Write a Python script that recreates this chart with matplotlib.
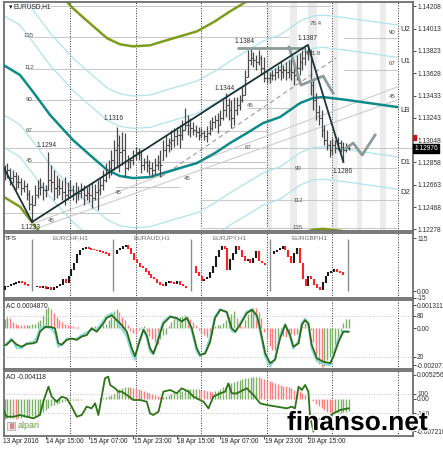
import numpy as np
import matplotlib
matplotlib.use("Agg")
import matplotlib.pyplot as plt
from matplotlib import patheffects
from matplotlib.patches import Rectangle
from matplotlib.transforms import blended_transform_factory

plt.rcParams['font.family'] = ['Liberation Sans', 'DejaVu Sans']

W, H = 443, 450

# EURUSD H1 bars, bar 0 = 13 Apr 2016 23:00 (bars start at index 1)
bar_high = [1.12832, 1.12849, 1.12806, 1.12789, 1.12771, 1.12745, 1.12719, 1.12702, 1.12676, 1.12616,
            1.12572, 1.12659, 1.12702, 1.12719, 1.12685, 1.12659, 1.12944, 1.12832, 1.12789, 1.12745,
            1.12719, 1.12702, 1.12728, 1.12685, 1.12702, 1.12659, 1.12685, 1.12650, 1.12676, 1.12659,
            1.12641, 1.12659, 1.12685, 1.12668, 1.12702, 1.12719, 1.12789, 1.12849, 1.12875, 1.12962,
            1.13048, 1.13161, 1.13092, 1.13118, 1.13109, 1.12918, 1.12892, 1.12962, 1.12988, 1.12979,
            1.12962, 1.12892, 1.12918, 1.12875, 1.12858, 1.12892, 1.12918, 1.12962, 1.13048, 1.13092,
            1.13066, 1.13135, 1.13152, 1.13161, 1.13178, 1.13221, 1.13325, 1.13265, 1.13239, 1.13204,
            1.13178, 1.13161, 1.13152, 1.13135, 1.13169, 1.13221, 1.13247, 1.13265, 1.13282, 1.13308,
            1.13395, 1.13455, 1.13412, 1.13395, 1.13420, 1.13420, 1.13438, 1.13507, 1.13654, 1.13827,
            1.13845, 1.13810, 1.13784, 1.13827, 1.13784, 1.13767, 1.13654, 1.13637, 1.13654, 1.13671,
            1.13697, 1.13723, 1.13697, 1.13723, 1.13741, 1.13758, 1.13741, 1.13784, 1.13801, 1.13827,
            1.13853, 1.13872, 1.13827, 1.13568, 1.13455, 1.13351, 1.13308, 1.13178, 1.13135, 1.13048,
            1.13066, 1.13048, 1.13074, 1.13048, 1.13031, 1.13022, 1.13005]
bar_low = [1.12702, 1.12719, 1.12659, 1.12676, 1.12616, 1.12633, 1.12572, 1.12598, 1.12529, 1.12442,
           1.12339, 1.12486, 1.12546, 1.12572, 1.12529, 1.12555, 1.12616, 1.12598, 1.12529, 1.12546,
           1.12572, 1.12529, 1.12486, 1.12529, 1.12546, 1.12529, 1.12503, 1.12529, 1.12546, 1.12486,
           1.12529, 1.12512, 1.12460, 1.12529, 1.12442, 1.12572, 1.12616, 1.12685, 1.12719, 1.12745,
           1.12789, 1.12806, 1.12771, 1.12832, 1.12728, 1.12789, 1.12806, 1.12832, 1.12875, 1.12875,
           1.12763, 1.12789, 1.12771, 1.12745, 1.12728, 1.12745, 1.12789, 1.12728, 1.12875, 1.12901,
           1.12944, 1.12962, 1.12988, 1.13005, 1.12979, 1.13048, 1.13135, 1.13092, 1.13074, 1.13092,
           1.13074, 1.13048, 1.13066, 1.13048, 1.13031, 1.13092, 1.13135, 1.13152, 1.13109, 1.13178,
           1.13221, 1.13247, 1.13221, 1.13152, 1.13178, 1.13265, 1.13308, 1.13377, 1.13438, 1.13594,
           1.13697, 1.13680, 1.13654, 1.13697, 1.13611, 1.13550, 1.13542, 1.13542, 1.13568, 1.13568,
           1.13585, 1.13568, 1.13585, 1.13568, 1.13585, 1.13568, 1.13524, 1.13568, 1.13611, 1.13654,
           1.13697, 1.13741, 1.13438, 1.13308, 1.13221, 1.13178, 1.13074, 1.13005, 1.12962, 1.12901,
           1.12918, 1.12936, 1.12962, 1.12944, 1.12858, 1.12944, 1.12962]
bar_close = [1.12771, 1.12789, 1.12719, 1.12737, 1.12685, 1.12685, 1.12633, 1.12650, 1.12581, 1.12494,
             1.12486, 1.12572, 1.12633, 1.12641, 1.12616, 1.12616, 1.12702, 1.12685, 1.12633, 1.12650,
             1.12633, 1.12598, 1.12572, 1.12616, 1.12616, 1.12590, 1.12598, 1.12590, 1.12616, 1.12572,
             1.12590, 1.12572, 1.12546, 1.12598, 1.12616, 1.12659, 1.12702, 1.12771, 1.12806, 1.12875,
             1.12962, 1.13005, 1.12944, 1.12962, 1.12806, 1.12858, 1.12875, 1.12918, 1.12944, 1.12918,
             1.12832, 1.12858, 1.12832, 1.12806, 1.12789, 1.12832, 1.12858, 1.12832, 1.12962, 1.13005,
             1.13031, 1.13048, 1.13083, 1.13092, 1.13092, 1.13135, 1.13178, 1.13178, 1.13152, 1.13135,
             1.13118, 1.13092, 1.13109, 1.13083, 1.13109, 1.13152, 1.13204, 1.13221, 1.13178, 1.13239,
             1.13308, 1.13351, 1.13308, 1.13239, 1.13308, 1.13351, 1.13395, 1.13438, 1.13568, 1.13741,
             1.13758, 1.13741, 1.13723, 1.13758, 1.13671, 1.13585, 1.13585, 1.13611, 1.13611, 1.13637,
             1.13654, 1.13637, 1.13654, 1.13637, 1.13654, 1.13637, 1.13611, 1.13671, 1.13723, 1.13758,
             1.13810, 1.13845, 1.13524, 1.13395, 1.13291, 1.13239, 1.13135, 1.13048, 1.13005, 1.12962,
             1.13005, 1.12979, 1.13022, 1.12988, 1.12962, 1.12979, 1.12976]

price_ticks = [1.14208, 1.14013, 1.13823, 1.13628, 1.13433, 1.13243, 1.13048,
               1.12858, 1.12663, 1.12468, 1.12278]

# moving average centre line and the band half widths around it
ma_bar = [-0.7, 6.6, 11.4, 17.6, 26.0, 32.2, 38.5, 43.2, 48.0, 54.2, 59.0, 65.2,
          71.4, 78.0, 83.5, 89.7, 95.6, 101.8, 109.2, 113.9, 117.6, 126.4, 144.7]
ma_price = [1.13715, 1.13611, 1.13464, 1.13265, 1.13048, 1.12918, 1.12789, 1.12737,
            1.12719, 1.12728, 1.12763, 1.12806, 1.12849, 1.12936, 1.13022, 1.13109,
            1.13195, 1.13247, 1.13369, 1.13412, 1.13420, 1.13395, 1.13334]
band_inner = 0.0043
band_outer = 0.0071
band_wide = 0.0114

# drawn objects
trend_bar = [0.7, 11, 112, 125]
trend_price = [1.12806, 1.12339, 1.13872, 1.12858]
fan_bar = [11.0, 144.7]
fan_a = [1.12322, 1.13507]
fan_b = [1.12269, 1.13395]
channel_bar = [58.2, 122.3]
channel_price = [1.12728, 1.13758]
pattern_bar = [105.1, 109.5, 117.6, 121.2]
pattern_price = [1.13853, 1.13524, 1.13602, 1.13455]
forecast_bar = [126.0, 128.6, 131.9, 136.6]
forecast_price = [1.12979, 1.13022, 1.12918, 1.13092]
level_bar = [86.1, 111.0]
level_price = 1.13845

fib_price = [1.14208, 1.13940, 1.13663, 1.13395, 1.13126, 1.12858, 1.12641, 1.12416,
             1.13325, 1.12806, 1.12529, 1.12287, 1.13931, 1.13654]
fib_from = [9.2, 9.2, 9.2, 9.2, 9.2, 9.2, 41.4, 0.7, 89.7, 72.5, 72.5, 72.5, 124.9, 124.9]
fib_to = [120, 105, 105, 97, 97, 97, 65.2, 43.2, 105.5, 144.7, 144.7, 144.7, 144.7, 144.7]

fib_text = ['135', '112', '90', '67', '45', '45', '45', '45', '45', '67', '90', '112', '135',
            '90', '67', '45', '78.4', '161.8']
fib_text_bar = [9.9, 9.9, 9.9, 9.9, 9.9, 17.9, 42.5, 67.8, 90.8, 90.1, 108.4, 108.4, 108.4,
                142.9, 142.9, 142.9, 114.7, 113.9]
fib_text_price = [1.13957, 1.13680, 1.13403, 1.13135, 1.12867, 1.12356, 1.12590, 1.12719,
                  1.13343, 1.12988, 1.12806, 1.12529, 1.12287, 1.13983, 1.13715, 1.13429,
                  1.14061, 1.13801]

swing_text = ['1.1294', '1.1316', '1.1233', '1.1344', '1.1384', '1.1387', '1.1286']
swing_bar = [16.5, 40.7, 10.3, 81.7, 89.0, 111.7, 124.9]
swing_price = [1.13005, 1.13239, 1.12287, 1.13498, 1.13905, 1.13931, 1.12780]

band_text = ['U2', 'U1', 'LB', 'D1', 'D2']
band_text_price = [1.14009, 1.13732, 1.13308, 1.12858, 1.12590]

stripe_from = [97.1, 105.5, 112.1, 121.2, 130.0, 138.5]
stripe_to = [98.9, 108.1, 115.4, 123.1, 131.9, 140.7]
day_marks = [25, 49, 73, 97, 121, 145]
time_bar = [0, 16, 32, 48, 64, 80, 96, 112]
time_text = ['13 Apr 2016', '14 Apr 15:00', '15 Apr 07:00', '15 Apr 23:00',
             '18 Apr 15:00', '19 Apr 07:00', '19 Apr 23:00', '20 Apr 15:00']

# TFS sub window: five small candle charts (0..115 scale)
tfs_names = ['TFS', 'EURCHF,H1', 'EURAUD,H1', 'EURJPY,H1', 'EURGBP,H1']
tfs_name_bar = [1.0, 24.9, 54.9, 83.5, 112.5]
tfs_start = [1.1, 12.8, 42.1, 71.0, 99.6]
tfs_sep_bar = [11.0, 40.7, 69.2, 98.2, 126.7]
tfs_eurusd = [4, 10, 11, 15, 17, 18, 20, 18, 15, 11]
tfs_eurchf = [10, 11, 8, 10, 6, 8, 4, 8, 11, 15, 26, 18, 33, 47, 61, 79, 89, 93, 95, 93,
              91, 89, 88, 86, 84, 81, 77]
tfs_euraud = [82, 89, 93, 96, 100, 93, 82, 68, 61, 54, 50, 43, 36, 29, 26, 18, 15, 11, 18,
              22, 18, 17, 20, 15, 11, 8]
tfs_eurjpy = [54, 40, 33, 22, 26, 29, 40, 54, 75, 89, 96, 93, 47, 68, 82, 96, 89, 75, 65,
              68, 61, 72, 86, 65, 61, 57]
tfs_eurgbp = [82, 86, 89, 93, 96, 89, 75, 61, 82, 93, 61, 26, 11, 33, 26, 15, 8, 4, 18, 33,
              40, 43, 47, 43, 40, 36]

# AC histogram (units of 1e-5) and its oscillator overlay (0..100)
ac_hist_e5 = [55, 64, 60, 35, 25, 20, 18, 17, 18, 20,
              22, 26, 35, 45, 73, 111, 120, 110, 85, 64,
              45, 36, 26, 20, 17, 12, 8, 5, 4, 3,
              2, 1, 8, 10, 15, 17, 18, 25, 45, 64,
              100, 111, 90, 65, 45, 20, -15, -25, -30, -10,
              8, 12, -20, -45, -60, -80, -87, -60, -40, -30,
              15, 35, 50, 60, 64, 70, 73, 64, 50, 35,
              20, -10, -25, -40, -50, -55, -30, 10, 17, 20,
              30, 45, 64, 80, 95, 60, 20, 5, 45, 80,
              110, 115, 112, 90, 60, -20, -60, -100, -120, -124,
              -80, -40, -45, -50, -30, -32, -40, -35, -20, 15,
              30, 35, -10, -80, -150, -200, -218, -215, -180, -160,
              -140, -110, -70, -20, 30, 50, 55]
ac_line_bar = [-0.7, 1.7, 3.5, 5.4, 7.2, 9.0, 11.5, 12.7, 13.9, 15.8,
               17.6, 19.4, 20.6, 21.9, 23.7, 25.5, 27.4, 29.2, 31.0, 32.8,
               34.7, 37.1, 38.3, 40.2, 42.0, 43.8, 45.7, 47.5, 48.7, 50.0,
               51.8, 53.0, 54.2, 55.4, 56.7, 57.9, 59.1, 61.6, 64.0, 65.8,
               67.7, 69.5, 71.3, 72.5, 74.4, 76.2, 78.0, 79.9, 82.3, 84.1,
               85.4, 87.2, 89.6, 91.5, 93.3, 94.5, 96.4, 98.2, 100.0, 101.8,
               103.7, 105.5, 106.7, 108.6, 109.8, 111.0, 112.2, 113.4, 115.3, 117.7,
               120.2, 121.4, 123.2, 125.0, 126.9]
ac_slow = [35, 38, 45, 38, 35, 39, 40, 42, 57, 64,
           64, 62, 40, 38, 45, 47, 45, 50, 52, 62,
           57, 69, 77, 81, 74, 67, 57, 33, 21, 38,
           60, 52, 33, 25, 38, 55, 69, 79, 77, 72,
           77, 62, 33, 23, 25, 42, 77, 89, 86, 62,
           57, 67, 84, 89, 81, 62, 25, 11, 16, 47,
           67, 52, 35, 40, 67, 74, 69, 38, 18, 13,
           11, 21, 42, 57, 57]
ac_fast = [30, 40, 47, 33, 33, 40, 42, 48, 62, 66,
           63, 55, 35, 38, 47, 46, 47, 52, 56, 60,
           60, 73, 80, 84, 72, 62, 50, 25, 16, 42,
           60, 48, 28, 24, 42, 60, 72, 80, 75, 72,
           78, 58, 28, 21, 28, 48, 80, 90, 85, 58,
           56, 70, 86, 90, 78, 56, 20, 6, 18, 52,
           68, 48, 32, 44, 70, 76, 66, 32, 14, 10,
           8, 24, 47, 58, 57]

# AO histogram (units of 1e-5) and its overlay line (+-100 levels)
ao_hist_e5 = [-447, -440, -430, -440, -445, -440, -430, -420, -410, -400,
              -390, -380, -370, -330, -300, -250, -200, -170, -140, -120,
              -100, -80, -60, -40, -30, -25, -28, -20, -24, -15,
              -18, -10, -12, -5, -8, 5, 20, 40, 60, 80,
              120, 170, 210, 240, 255, 262, 258, 245, 230, 210,
              190, 170, 150, 130, 100, 80, 50, 30, 40, 60,
              80, 100, 120, 140, 160, 180, 195, 205, 215, 220,
              225, 215, 200, 185, 170, 160, 150, 160, 180, 210,
              250, 290, 320, 340, 370, 400, 420, 440, 455, 465,
              475, 478, 483, 470, 450, 430, 410, 390, 370, 350,
              330, 310, 290, 270, 250, 230, 200, 180, 160, 120,
              80, 40, -10, -60, -110, -160, -210, -250, -290, -320,
              -336, -330, -320, -310, -300, -290, -280]
ao_line_bar = [-0.7, 0.5, 1.7, 4.2, 6.6, 9.0, 11.5, 13.9, 15.1, 17.0,
               18.2, 20.0, 21.9, 23.7, 25.5, 27.4, 29.2, 31.0, 32.8, 34.1,
               35.3, 36.5, 37.7, 38.9, 39.6, 41.4, 42.6, 43.8, 45.7, 48.1,
               50.6, 53.0, 54.2, 55.4, 57.3, 59.1, 61.6, 64.0, 65.8, 68.3,
               70.1, 72.5, 73.8, 75.6, 77.4, 79.9, 81.7, 82.9, 84.1, 86.0,
               87.2, 89.6, 92.1, 94.5, 97.0, 100.6, 104.3, 106.1, 107.3, 108.6,
               109.8, 111.0, 112.2, 112.8, 114.1, 115.3, 117.7, 119.6, 121.4, 123.8,
               126.9]
ao_line = [-104, -68, -139, -139, -121, -139, -156, -121, 19, 177,
           72, 19, 72, 54, -33, -139, -121, -33, -51, 2,
           -121, 72, 265, 283, 195, 160, 125, 125, 90, 37,
           37, 19, -104, -121, -86, 125, 142, 107, 160, 125,
           72, 37, 19, -51, 72, 107, 125, 212, 107, 107,
           125, 160, 90, 2, -16, -33, -51, -33, -51, 177,
           142, 195, 125, -139, -297, -174, -156, -139, -104, -68,
           -51]

GREEN = '#7bb067'
RED = '#fa7c7c'
SMALL = 4.8


def style_right(ax):
    ax.yaxis.tick_right()
    ax.tick_params(axis='y', length=2, width=0.6, labelsize=SMALL, pad=1.0,
                   colors='#303030', left=False, labelleft=False,
                   right=True, labelright=True)


def panel(fig, top, bottom):
    """Sub window covering pixel rows top..bottom of the terminal."""
    ax = fig.add_axes([4 / W, 1 - bottom / H, 409 / W, (bottom - top) / H])
    ax.set_xlim(0.73, 150.5)
    ax.set_xticks([])
    style_right(ax)
    for s in ax.spines.values():
        s.set_color('#6e6e6e')
        s.set_linewidth(1.3)
    for d in day_marks:
        ax.axvline(d, color='#303030', lw=0.7, ls=(0, (1, 1.6)), zorder=1)
    return ax


def overlay(ax, lo, hi, ticks):
    """Second scale on the right for the oscillator drawn over a histogram."""
    ax2 = ax.twinx()
    style_right(ax)
    ax2.set_ylim(lo, hi)
    ax2.set_yticks(ticks)
    ax2.set_yticklabels([str(t) for t in ticks])
    style_right(ax2)
    for s in ax2.spines.values():
        s.set_visible(False)
    for t in ticks:
        ax2.axhline(t, color='#c4c4c4', lw=0.7, ls=(0, (1, 1.5)), zorder=1)
    return ax2


def histogram(ax, values):
    """Oscillator bars, green when the value rises, red when it falls."""
    v = np.asarray(values, float) * 1e-5
    rising = np.diff(np.r_[v[0] - 1, v]) >= 0
    idx = np.arange(1, len(v) + 1)
    ax.vlines(idx, 0, v, colors=np.where(rising, GREEN, RED), lw=1.0, zorder=2)


def draw_main(ax):
    ax.set_ylim(1.12261, 1.14243)
    ax.set_yticks(price_ticks)
    ax.set_yticklabels([f'{p:.5f}' for p in price_ticks])

    for a, b in zip(stripe_from, stripe_to):
        ax.axvspan(a, b, color='#ececec', lw=0, zorder=0)
    for p, a, b in zip(fib_price, fib_from, fib_to):
        ax.hlines(p, a, b, color='#c9c9c9', lw=0.8, zorder=1)
    ax.axhline(bar_close[-1], color='#c9c9c9', lw=0.8, zorder=1)

    ma = np.array(ma_price)
    for w, col, lw in [(band_wide, '#7e9c1c', 1.8), (band_outer, '#b0e4ec', 0.9),
                       (band_inner, '#b0e4ec', 0.9)]:
        ax.plot(ma_bar, ma + w, color=col, lw=lw, zorder=2)
        ax.plot(ma_bar, ma - w, color=col, lw=lw, zorder=2)
    ax.plot(ma_bar, ma, color='#0f8a8a', lw=1.8, zorder=3)

    ax.plot(fan_bar, fan_a, color='#cdcdcd', lw=0.8, zorder=2)
    ax.plot(fan_bar, fan_b, color='#cdcdcd', lw=0.8, zorder=2)
    ax.plot(channel_bar, channel_price, color='#9a9a9a', lw=0.8, ls=(0, (4, 3)), zorder=2)

    hi = np.array(bar_high)
    lo = np.array(bar_low)
    cl = np.array(bar_close)
    op = np.clip(np.r_[cl[0], cl[:-1]], lo, hi)
    idx = np.arange(1, len(cl) + 1)
    ax.vlines(idx, lo, hi, color='#484848', lw=0.9, zorder=4)
    ax.hlines(op, idx - 0.5, idx, color='#484848', lw=0.8, zorder=4)
    ax.hlines(cl, idx, idx + 0.5, color='#484848', lw=0.8, zorder=4)

    ax.hlines(level_price, *level_bar, color='#8d9b9b', lw=2.0, zorder=4)
    ax.plot(pattern_bar, pattern_price, color='#8d9b9b', lw=2.0, zorder=4)
    ax.plot(forecast_bar, forecast_price, color='#8d9b9b', lw=2.0, zorder=4)
    ax.plot(trend_bar, trend_price, color='#1d3434', lw=1.3, zorder=5)

    for t, b, p in zip(fib_text, fib_text_bar, fib_text_price):
        ax.text(b, p, t, fontsize=4.4, color='#505050', ha='center', va='center', zorder=6)
    for t, b, p in zip(swing_text, swing_bar, swing_price):
        ax.text(b, p, t, fontsize=SMALL, color='#303030', ha='center', va='center', zorder=6)
    for t, p in zip(band_text, band_text_price):
        ax.text(147.6, p, t, fontsize=5.6, color='#303030', ha='center', va='center', zorder=6)

    ax.text(0.012, 0.978, '\u25be', transform=ax.transAxes, fontsize=5,
            family=['DejaVu Sans'], va='center', color='#202020')
    ax.text(0.024, 0.978, 'EURUSD,H1', transform=ax.transAxes, fontsize=4.7,
            va='center', color='#202020')

    tr = blended_transform_factory(ax.transAxes, ax.transData)
    ax.text(1.003, cl[-1], f'{cl[-1]:.5f}', transform=tr, fontsize=SMALL, color='white',
            va='center', ha='left', clip_on=False,
            bbox=dict(boxstyle='square,pad=0.18', fc='black', ec='black'))
    ax.add_patch(Rectangle((1.0, 1.13052), 0.008, 0.00043, transform=tr,
                           color='#d01010', clip_on=False, zorder=6))


def draw_tfs(ax):
    ax.set_ylim(-15, 126)
    ax.set_yticks([115, 0, -15])
    ax.set_yticklabels(['115', '0.00', '-15'])
    series = [tfs_eurusd, tfs_eurchf, tfs_euraud, tfs_eurjpy, tfs_eurgbp]
    for vals, start in zip(series, tfs_start):
        v = np.array(vals, float)
        o, c = v[:-1], v[1:]
        x = start + 1.05 * np.arange(len(c))
        bottom = np.minimum(o, c) - 0.8
        top = np.maximum(o, c) + 0.8
        up = c >= o
        ax.vlines(x[up], bottom[up], top[up], color='#1a1a1a', lw=1.5, zorder=3)
        ax.vlines(x[~up], bottom[~up], top[~up], color='#ff2020', lw=1.5, zorder=3)
    ax.vlines(tfs_sep_bar, 0, 112, color='#8c8c8c', lw=1.0, zorder=2)
    for name, b in zip(tfs_names, tfs_name_bar):
        ax.text(b, 115, name, fontsize=4.6, ha='left' if name == 'TFS' else 'center',
                va='center', color='#202020' if name == 'TFS' else '#6a6a6a')


def main():
    fig = plt.figure(figsize=(W / 100, H / 100), dpi=100)

    ax_main = panel(fig, 2, 231)
    draw_main(ax_main)

    ax_tfs = panel(fig, 233, 298)
    draw_tfs(ax_tfs)

    ax_ac = panel(fig, 300, 369)
    ax_ac.set_ylim(-0.002296, 0.001593)
    ax_ac.set_yticks([0.001311, 0, -0.002071])
    ax_ac.set_yticklabels(['0.001311', '0.00', '-0.002071'])
    histogram(ax_ac, ac_hist_e5)
    ac2 = overlay(ax_ac, 2.4, 103.4, [80, 20])
    ac2.plot(ac_line_bar, ac_fast, color='#8adcdc', lw=1.5, zorder=3)
    ac2.plot(ac_line_bar, ac_slow, color='#2f6a14', lw=1.3, zorder=4)
    ax_ac.text(0.004, 0.9, 'AC 0.0004870', transform=ax_ac.transAxes, fontsize=4.7,
               va='center', color='#202020')

    ax_ao = panel(fig, 371, 436)
    ax_ao.set_ylim(-0.008323, 0.006146)
    ax_ao.set_yticks([0.005256, 0, -0.00721])
    ax_ao.set_yticklabels(['0.005256', '0.00', '-0.007210'])
    histogram(ax_ao, ao_hist_e5)
    ao2 = overlay(ax_ao, -342, 342, [100, -100])
    ao2.plot(ao_line_bar, ao_line, color='#2c7514', lw=1.3, zorder=4)
    ax_ao.text(0.004, 0.9, 'AO -0.004118', transform=ax_ao.transAxes, fontsize=4.7,
               va='center', color='#202020')

    ax_ao.set_xticks(time_bar[1:])
    ax_ao.set_xticklabels([])
    ax_ao.tick_params(axis='x', length=2, width=0.6, colors='#303030')
    trx = blended_transform_factory(ax_ao.transData, ax_ao.transAxes)
    for b, t in zip(time_bar, time_text):
        ax_ao.text(b + 0.2, -0.08, t, transform=trx, fontsize=SMALL, ha='left',
                   va='center', color='#202020', clip_on=False)

    # broker logo and site watermark
    fig.patches.append(Rectangle((7 / W, 1 - 430 / H), 8 / W, 8 / H, transform=fig.transFigure,
                                 fc='#eeeeee', ec='#a0a0a0', lw=0.5))
    fig.text(11 / W, 1 - 426 / H, '\u2593', fontsize=4, color='#d07070', ha='center',
             va='center', family=['DejaVu Sans'])
    fig.text(18 / W, 1 - 426 / H, 'alpari', fontsize=6.5, color='#6a9e3f', va='center')
    fig.text(357.5 / W, 1 - 430 / H, 'finanso.net', fontsize=19, weight='bold',
             color='black', ha='center', va='baseline',
             path_effects=[patheffects.withStroke(linewidth=2, foreground='white')])

    fig.savefig('out.png', dpi=100)


if __name__ == '__main__':
    main()
